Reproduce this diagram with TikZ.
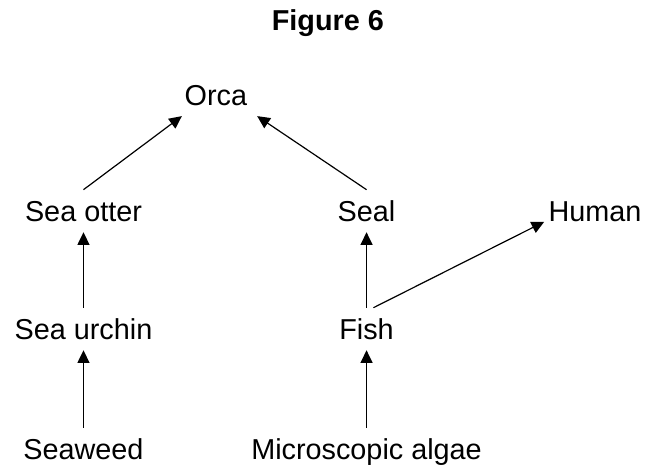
\documentclass[tikz,border=0pt]{standalone}
\usepackage{fontspec}
\setmainfont{Liberation Sans}
\usepackage{tikz}
\usetikzlibrary{arrows.meta}
\tikzset{
  webtitle/.style={
    font=\fontsize{21.6}{26}\selectfont\bfseries,
    inner sep=0pt
  },
  webnode/.style={
    font=\fontsize{21.6}{26}\selectfont,
    text height=15.5pt,
    text depth=0pt,
    inner xsep=3pt,
    inner ysep=8pt
  },
  webline/.style={
    draw=black,
    -{Triangle[length=9.5pt,width=9pt]},
    line width=0.9pt
  }
}
\begin{document}
\begin{tikzpicture}[x=1cm,y=1cm]
  \useasboundingbox (0,0) rectangle (17.025,12.44);
  \node[webtitle] (title) at (8.64,11.83) {Figure 6};
  \node[webnode,minimum width=61.5pt,inner xsep=0pt] (orca) at (5.69,9.94) {Orca};
  \node[webnode] (otter) at (2.20,6.88) {Sea otter};
  \node[webnode] (seal) at (9.66,6.88) {Seal};
  \node[webnode] (human) at (15.68,6.88) {Human};
  \node[webnode] (urchin) at (2.20,3.77) {Sea urchin};
  \node[webnode] (fish) at (9.66,3.77) {Fish};
  \node[webnode] (seaweed) at (2.20,0.61) {Seaweed};
  \node[webnode] (algae) at (9.66,0.61) {Microscopic algae};
  \foreach \from/\to in {seaweed.north/urchin.south,urchin.north/otter.south,otter.north/orca.212,
    algae.north/fish.south,fish.north/seal.south,seal.north/orca.south east,fish.72/human.192}{\draw[webline] (\from) -- (\to);}
\end{tikzpicture}
\end{document}
